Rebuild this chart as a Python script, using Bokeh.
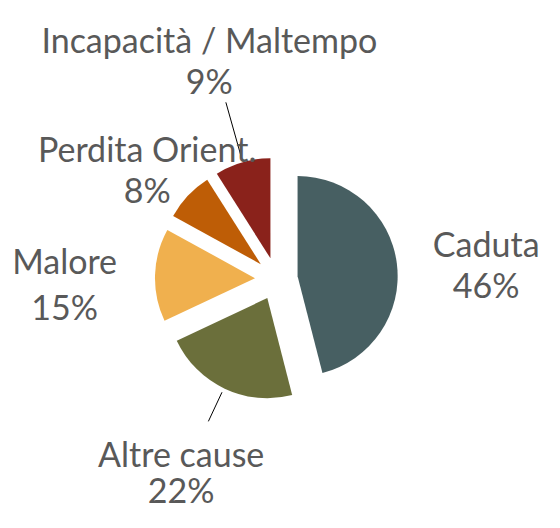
import math
from bokeh.plotting import figure
from bokeh.models import Range1d, ColumnDataSource
from bokeh.core.properties import value
from bokeh.embed import file_html
from bokeh.resources import INLINE

# ---- data ----
categories = ["Caduta", "Altre cause", "Malore", "Perdita Orient.", "Incapacità / Maltempo"]
values = [46, 22, 15, 8, 9]
colors = ["#475F62", "#6B6F3B", "#F0B04E", "#BE5D06", "#8A221B"]

# ---- layout (reference-pixel coordinates, y measured downward) ----
W, H = 544, 512
REF_W, REF_H = 560, 528
cx_px, cy_px = 284, 287
radius = 103
explode = 22
# label anchor: centre x, baseline of name, baseline of percentage
label_pos = [(500, 251, 293), (186, 467, 504), (66, 268, 316), (151, 153, 195), (215, 40, 82)]
leaders = [((232, 105), (248, 162)), ((228, 404), (214, 434))]


def Y(py):
    return REF_H - py


p = figure(width=W, height=H, output_backend="svg", toolbar_location=None,
           x_range=Range1d(0, REF_W), y_range=Range1d(0, REF_H),
           min_border=0)
p.axis.visible = False
p.grid.visible = False
p.outline_line_color = None
p.background_fill_color = "white"
p.border_fill_color = "white"

total = sum(values)
xs, ys, starts, ends = [], [], [], []
cum = 0.0
for v in values:
    f0 = cum / total
    cum += v
    f1 = cum / total
    mid = math.pi / 2 - 2 * math.pi * (f0 + f1) / 2
    xs.append(cx_px + explode * math.cos(mid))
    ys.append(Y(cy_px) + explode * math.sin(mid))
    starts.append(math.pi / 2 - 2 * math.pi * f1)
    ends.append(math.pi / 2 - 2 * math.pi * f0)

src = ColumnDataSource(dict(x=xs, y=ys, s=starts, e=ends, c=colors))
p.wedge(x="x", y="y", radius=radius, start_angle="s", end_angle="e",
        fill_color="c", line_color=None, source=src)

for (a, b) in leaders:
    p.line([a[0], b[0]], [Y(a[1]), Y(b[1])], line_color="black", line_width=1)

font = value("Lato")
name_src = ColumnDataSource(dict(
    x=[lp[0] for lp in label_pos], y=[Y(lp[1]) for lp in label_pos], t=categories))
pct_src = ColumnDataSource(dict(
    x=[lp[0] for lp in label_pos], y=[Y(lp[2]) for lp in label_pos],
    t=[f"{v}%" for v in values]))
for s in (name_src, pct_src):
    p.text(x="x", y="y", text="t", source=s, text_font=font,
           text_font_size="34px", text_color="#595959",
           text_align="center", text_baseline="alphabetic")

open("out.html", "w").write(file_html(p, INLINE))
